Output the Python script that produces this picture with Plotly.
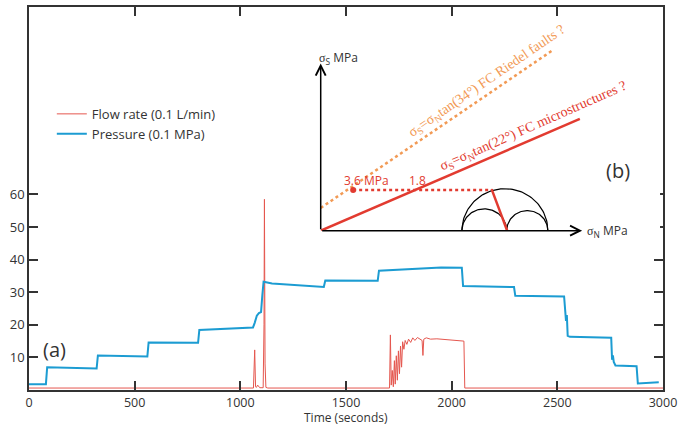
import numpy as np
import plotly.graph_objects as go

# ---------------- main panel (a) data ----------------
pressure_time = [0, 80, 86, 320, 326, 560, 566, 800, 806, 1000, 1060, 1068, 1078, 1088, 1098, 1104, 1110,
                 1150, 1300, 1395, 1402, 1650, 1656, 1800, 1950, 2048, 2054, 2295, 2301, 2532, 2537,
                 2541, 2545, 2549, 2560, 2755, 2759, 2763, 2767, 2775, 2875, 2881, 2980]
pressure_value = [1.8, 1.8, 7.0, 6.6, 10.6, 10.3, 14.6, 14.5, 18.4, 18.9, 19.2, 20.6, 22.8, 23.6, 23.9, 29.0,
                  33.2, 32.7, 31.9, 31.6, 33.6, 33.5, 36.6, 37.2, 37.6, 37.5, 31.9, 31.6, 28.9, 28.7, 22.4,
                  21.2, 23.0, 16.6, 16.3, 16.0, 9.3, 10.6, 8.6, 7.5, 7.3, 2.0, 2.4]

flow_time = [0, 1000, 1062, 1068, 1072, 1076, 1082, 1092, 1108, 1112, 1114, 1117, 1121, 1130, 1500, 1706,
             1710, 1714, 1719, 1724, 1729, 1733, 1738, 1743, 1748, 1753, 1758, 1763, 1768, 1774, 1780,
             1788, 1796, 1806, 1816, 1826, 1838, 1850, 1860, 1864, 1868, 1880, 1900, 1930, 1960, 2000,
             2030, 2058, 2062, 2500, 3000]
flow_value = [0.6, 0.6, 0.6, 12.3, 1.0, 0.8, 1.5, 0.7, 0.7, 20.0, 58.5, 8.0, 0.8, 0.6, 0.6, 0.6,
              16.9, 1.5, 6.0, 1.0, 9.0, 1.8, 10.5, 3.0, 12.0, 5.0, 13.5, 7.0, 14.8, 12.5, 15.2,
              14.0, 15.6, 14.6, 16.0, 15.2, 16.1, 15.6, 15.2, 10.6, 15.6, 16.0, 15.6, 15.7, 15.5, 15.3,
              15.2, 15.0, 0.6, 0.6, 0.6]

x_ticks = [0, 500, 1000, 1500, 2000, 2500, 3000]
y_ticks = [10, 20, 30, 40, 50, 60]

# ---------------- inset panel (b) data (MPa) ----------------
fc22_x = [0, 5.67]
fc22_y = [0, 2.50]
fc34_x = [0, 5.08]
fc34_y = [0.51, 4.04]
stress_x = [0.71, 3.74]
stress_y = [0.91, 0.91]
pole_x = [3.74, 4.08]
pole_y = [0.93, 0.0]
mohr_center = [4.03, 3.58, 4.52]
mohr_radius = [0.94, 0.49, 0.45]
sn_ticks = [0.98, 1.99, 2.99, 3.99, 5.20]
ss_ticks = [1.0, 2.0, 3.0]
sn_labels = ["3.2", "4.2", "5.0"]
sn_label_pos = [2.50, 4.03, 4.95]
ss_labels = ["3.0", "1.0", "0.5"]
ss_label_pos = [3.03, 1.0, 0.40]

RED = "#E23B30"
ORANGE = "#F29A55"
FLOW = "#E5574F"
PRESS = "#1C9CD2"
AX = "#333333"
SANS = "Open Sans"
SERIF = "Liberation Serif"

fig = go.Figure()
fig.add_trace(go.Scatter(x=flow_time, y=flow_value, mode="lines", name="Flow rate (0.1 L/min)",
                         line=dict(color=FLOW, width=1)))
fig.add_trace(go.Scatter(x=pressure_time, y=pressure_value, mode="lines", name="Pressure (0.1 MPa)",
                         line=dict(color=PRESS, width=2)))

# inset traces
fig.add_trace(go.Scatter(x=fc34_x, y=fc34_y, mode="lines", xaxis="x2", yaxis="y2", showlegend=False,
                         line=dict(color=ORANGE, width=2.5, dash="dot")))
fig.add_trace(go.Scatter(x=fc22_x, y=fc22_y, mode="lines", xaxis="x2", yaxis="y2", showlegend=False,
                         line=dict(color=RED, width=2.5)))
fig.add_trace(go.Scatter(x=stress_x, y=stress_y, mode="lines", xaxis="x2", yaxis="y2", showlegend=False,
                         line=dict(color=RED, width=2.5, dash="dot")))
fig.add_trace(go.Scatter(x=[stress_x[0]], y=[stress_y[0]], mode="markers", xaxis="x2", yaxis="y2",
                         showlegend=False, marker=dict(color=RED, size=6)))
theta = np.linspace(0, np.pi, 80)
for c, r in zip(mohr_center, mohr_radius):
    fig.add_trace(go.Scatter(x=c + r * np.cos(theta), y=r * np.sin(theta), mode="lines", xaxis="x2",
                             yaxis="y2", showlegend=False, line=dict(color="black", width=1.2)))
fig.add_trace(go.Scatter(x=pole_x, y=pole_y, mode="lines", xaxis="x2", yaxis="y2", showlegend=False,
                         line=dict(color=RED, width=2.5)))

# inset axis ticks as shapes
shapes = []
for t in ss_ticks:
    shapes.append(dict(type="line", xref="x2", yref="y2", x0=-0.17, x1=0, y0=t, y1=t,
                       line=dict(color="black", width=1.2)))
for t in sn_ticks:
    shapes.append(dict(type="line", xref="x2", yref="y2", x0=t, x1=t, y0=0, y1=-0.17,
                       line=dict(color="black", width=1.2)))

ann = []
# axes arrows
ann.append(dict(xref="x2", yref="y2", axref="x2", ayref="y2", x=5.72, y=0, ax=0, ay=0, showarrow=True,
                arrowhead=5, arrowsize=1.3, arrowwidth=1.5, arrowcolor="black", text=""))
ann.append(dict(xref="x2", yref="y2", axref="x2", ayref="y2", x=0, y=3.74, ax=0, ay=0, showarrow=True,
                arrowhead=5, arrowsize=1.3, arrowwidth=1.5, arrowcolor="black", text=""))
ann.append(dict(xref="x2", yref="y2", x=0.38, y=3.87, showarrow=False,
                text='<span style="font-family:Liberation Serif">σ</span><sub>S</sub> MPa',
                font=dict(family=SANS, size=12, color=AX)))
ann.append(dict(xref="x2", yref="y2", x=5.78, y=0, xanchor="left", showarrow=False,
                text='<span style="font-family:Liberation Serif">σ</span><sub>N</sub> MPa',
                font=dict(family=SANS, size=12, color=AX)))
for lab, pos in zip(ss_labels, ss_label_pos):
    ann.append(dict(xref="x2", yref="y2", x=-0.17, y=pos, xanchor="right", showarrow=False, text=lab,
                    font=dict(family=SANS, size=11, color=AX)))
for lab, pos in zip(sn_labels, sn_label_pos):
    ann.append(dict(xref="x2", yref="y2", x=pos, y=-0.33, showarrow=False, text=lab,
                    font=dict(family=SANS, size=11, color=AX)))
ann.append(dict(xref="x2", yref="y2", x=1.0, y=1.13, showarrow=False, text="3.6 MPa",
                font=dict(family=SANS, size=12, color=RED)))
ann.append(dict(xref="x2", yref="y2", x=2.11, y=1.13, showarrow=False, text="1.8",
                font=dict(family=SANS, size=12, color=RED)))
ann.append(dict(xref="x2", yref="y2", x=3.64, y=3.33, showarrow=False, textangle=-34.5,
                text="σ<sub>S</sub>=σ<sub>N</sub>tan(34°) FC Riedel faults ?",
                font=dict(family=SERIF, size=14, color=ORANGE)))
ann.append(dict(xref="x2", yref="y2", x=4.65, y=2.34, showarrow=False, textangle=-23.8,
                text="σ<sub>S</sub>=σ<sub>N</sub>tan(22°) FC microstructures ?",
                font=dict(family=SERIF, size=14, color=RED)))
ann.append(dict(xref="x2", yref="y2", x=6.51, y=1.35, showarrow=False, text="(b)",
                font=dict(family=SANS, size=20, color=AX)))
ann.append(dict(xref="x", yref="y", x=123, y=12.3, showarrow=False, text="(a)",
                font=dict(family=SANS, size=20, color=AX)))
ann.append(dict(xref="paper", yref="paper", x=0.5, y=-0.0718, yanchor="middle", showarrow=False,
                borderpad=0, text="Time (seconds)", font=dict(family=SANS, size=12, color=AX)))

axis_common = dict(showgrid=False, zeroline=False, showline=True, linecolor=AX, linewidth=1.5,
                   mirror="ticks", ticks="inside", ticklen=9, tickwidth=1.5, tickcolor=AX,
                   automargin=False)

fig.update_layout(
    width=678, height=425,
    margin=dict(l=29, r=15, t=7, b=35, autoexpand=False),
    paper_bgcolor="white", plot_bgcolor="white",
    font=dict(family=SANS, size=13, color=AX),
    xaxis=dict(range=[0, 3000], tickvals=x_ticks, tickfont=dict(family=SANS, size=12.5, color=AX),
               **axis_common),
    yaxis=dict(range=[0, 117.5], tickvals=y_ticks, tickfont=dict(family=SANS, size=13, color=AX),
               **axis_common),
    xaxis2=dict(domain=[0.4601, 0.9953], range=[0, 7.424], visible=False, anchor="y2", fixedrange=True),
    yaxis2=dict(domain=[0.4159, 0.9138], range=[0, 4.266], visible=False, anchor="x2", fixedrange=True),
    legend=dict(x=0.036, y=0.760, xanchor="left", yanchor="top", bgcolor="rgba(0,0,0,0)",
                font=dict(family=SANS, size=13, color=AX), itemwidth=30, tracegroupgap=0),
    shapes=shapes,
    annotations=ann,
)

fig.write_html("out.html", config={"displayModeBar": False},
               post_script="document.body.style.margin='0px';document.body.style.overflow='hidden';")
